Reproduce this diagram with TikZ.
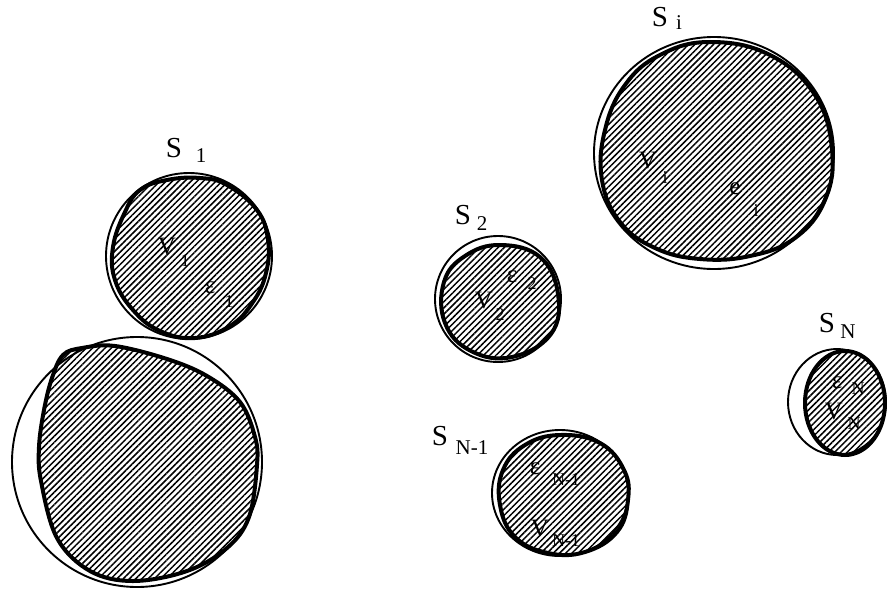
\documentclass[tikz,border=0pt]{standalone}
\usepackage{fontspec}
\setmainfont{Liberation Serif}
\usetikzlibrary{patterns.meta}
\begin{document}
\begin{tikzpicture}[x=1pt,y=-1pt,
  outline/.style={line width=1.9pt},
  region/.style={line width=4pt, line join=round,
    pattern={Lines[angle=45,distance=4.4pt,line width=1.5pt]}},
  setname/.style={font=\fontsize{29}{29}\selectfont, inner sep=0pt},
  sub/.style={font=\fontsize{21}{21}\selectfont, inner sep=0pt},
  inlabel/.style={font=\fontsize{25}{25}\selectfont, inner sep=0pt},
  insub/.style={font=\fontsize{18}{18}\selectfont, inner sep=0pt}]
\useasboundingbox (0,0) rectangle (887,590);

% ---- S_1 ----
\draw[region] plot[smooth cycle, tension=0.7] coordinates {
  (140,190) (167,180) (200,178) (227,185) (257,210) (268,240) (266,273)
  (253,302) (230,326) (195,338) (160,331) (133,310) (115,280) (113,247) (125,212)};
\draw[outline] (189,256) circle (83);
\node[setname] (s1) at (174,148) {S};
\node[sub] (s1i) at (201,156) {1};
\node[inlabel] (v1) at (167,246) {V};
\node[insub] (v1i) at (185,261) {1};
\node[inlabel] (e1) at (210,288) {ε};
\node[insub] (e1i) at (229,302) {1};

% ---- unlabelled large set ----
\draw[region] plot[smooth cycle, tension=0.6] coordinates {
  (82,348) (115,346) (167,359) (207,376) (240,402) (255,437) (257,465)
  (249,517) (227,548) (187,571) (133,581) (90,571) (57,538) (41,481)
  (39,447) (44,410) (52,378) (63,355)};
\draw[outline] (137,462) circle (125);

% ---- S_2 ----
\draw[region] plot[smooth cycle, tension=0.7] coordinates {
  (500,245) (540,257) (558,294) (551,334) (512,357) (471,351) (445,323)
  (444,282) (465,256)};
\draw[outline] (498,299) circle (63);
\node[setname] (s2) at (463,215) {S};
\node[sub] (s2i) at (482,224) {2};
\node[inlabel] (e2) at (512,277) {ε};
\node[insub] (e2i) at (532,284) {2};
\node[inlabel] (v2) at (484,300) {V};
\node[insub] (v2i) at (500,315) {2};

% ---- S_i ----
\draw[region] plot[smooth cycle, tension=0.7] coordinates {
  (710,42) (770,55) (815,95) (832,150) (825,200) (795,238) (750,256)
  (700,259) (655,248) (620,222) (602,180) (605,130) (625,85) (660,55)};
\draw[outline] (714,153) ellipse (120 and 116);
\node[setname] (si) at (660,17) {S};
\node[sub] (sii) at (679,23) {i};
\node[inlabel] (vi) at (648,160) {V};
\node[insub] (vii) at (665,178) {i};
\node[inlabel] (ei) at (735,189) {e};
\node[insub] (eii) at (756,211) {i};

% ---- S_{N-1} ----
\draw[region] plot[smooth cycle, tension=0.7] coordinates {
  (560,435) (600,443) (624,470) (628,500) (617,532) (585,552) (548,553)
  (515,537) (500,505) (503,470) (525,445)};
\draw[outline] (560,493) ellipse (68 and 63);
\node[setname] (sn1) at (440,436) {S};
\node[sub] (sn1i) at (472,448) {N-1};
\node[inlabel] (en1) at (535,469) {ε};
\node[insub] (en1i) at (566,480) {N-1};
\node[inlabel] (vn1) at (540,528) {V};
\node[insub] (vn1i) at (566,541) {N-1};

% ---- S_N ----
\draw[region] (845,403) ellipse (40 and 52);
\draw[outline] (837,402) ellipse (49 and 53);
\node[setname] (sn) at (827,323) {S};
\node[sub] (sni) at (848,332) {N};
\node[inlabel] (en) at (837,383) {ε};
\node[insub] (eni) at (858,389) {N};
\node[inlabel] (vn) at (834,411) {V};
\node[insub] (vni) at (854,424) {N};
\end{tikzpicture}
\end{document}
